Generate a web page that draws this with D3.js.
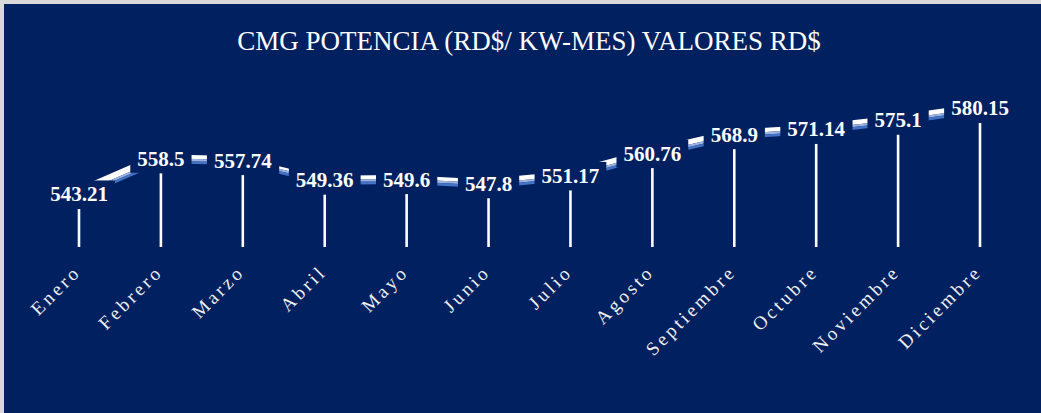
<!DOCTYPE html>
<html><head><meta charset="utf-8">
<script src="https://cdn.jsdelivr.net/npm/d3@7"></script>
<style>html,body{margin:0;padding:0;background:#d9d9d9;}svg{display:block;}</style>
</head><body><div id="chart"></div>
<script>
const categories = ["Enero","Febrero","Marzo","Abril","Mayo","Junio","Julio","Agosto","Septiembre","Octubre","Noviembre","Diciembre"];
const values = [543.21,558.5,557.74,549.36,549.6,547.8,551.17,560.76,568.9,571.14,575.1,580.15];
const valueLabels = ["543.21","558.5","557.74","549.36","549.6","547.8","551.17","560.76","568.9","571.14","575.1","580.15"];
const title = "CMG POTENCIA (RD$/ KW-MES) VALORES RD$";

const W = 1041, H = 413;
const bg = "#002060";
const svg = d3.select("#chart").append("svg").attr("width", W).attr("height", H);
svg.append("rect").attr("x",0).attr("y",0).attr("width",W).attr("height",H).attr("fill","#d9d9d9");
svg.append("rect").attr("x",4).attr("y",4).attr("width",W-4).attr("height",H-4).attr("fill",bg);

svg.append("text").attr("x",529).attr("y",50).attr("text-anchor","middle")
  .attr("font-family","'Liberation Serif','Times New Roman',serif").attr("font-size",27)
  .attr("fill","#ffffff").text(title);

const x = d3.scalePoint().domain(categories).range([79,980]);
const y = d3.scaleLinear().domain([520,590]).range([263,100]);
const baseY = 247, lift = 14.5;

// drop lines
svg.append("g").selectAll("line").data(values).join("line")
  .attr("x1",(d,i)=>x(categories[i])).attr("x2",(d,i)=>x(categories[i]))
  .attr("y1",d=>y(d)).attr("y2",baseY)
  .attr("stroke","#ffffff").attr("stroke-width",2.6);

// ribbon
const pts = values.map((v,i)=>[x(categories[i]), y(v)-lift]);
function band(off1, off2){
  const a = pts.map(p=>[p[0]+off1[0], p[1]+off1[1]]);
  const b = pts.map(p=>[p[0]+off2[0], p[1]+off2[1]]).reverse();
  return "M"+a.concat(b).map(p=>p.join(",")).join("L")+"Z";
}
svg.append("path").attr("d", band([0,-0.5],[-6,-4.5])).attr("fill","#ffffff");
svg.append("path").attr("d", band([0,-0.5],[0,1.8])).attr("fill","#9db4e2");
svg.append("path").attr("d", band([0,1.8],[0,4.5])).attr("fill","#4472c4");

// value labels with background boxes
const lg = svg.append("g");
values.forEach((v,i)=>{
  const cx = x(categories[i]), cy = y(v)-lift;
  const g = lg.append("g");
  const t = g.append("text").attr("x",cx).attr("y",cy+7).attr("text-anchor","middle")
    .attr("font-family","'Liberation Serif','Times New Roman',serif").attr("font-weight","bold")
    .attr("font-size",21).attr("fill","#ffffff").text(valueLabels[i]);
  const bb = t.node().getBBox();
  g.insert("rect","text").attr("x",bb.x-7).attr("y",bb.y-2).attr("width",bb.width+14).attr("height",bb.height+4).attr("fill",bg);
});

// category labels
svg.append("g").selectAll("text").data(categories).join("text")
  .attr("transform",d=>`translate(${x(d)+3},${273}) rotate(-45)`)
  .attr("text-anchor","end")
  .attr("font-family","'Liberation Serif','Times New Roman',serif").attr("font-size",19)
  .attr("letter-spacing","3.2px")
  .attr("fill","#f0f0f0").text(d=>d);
</script></body></html>
